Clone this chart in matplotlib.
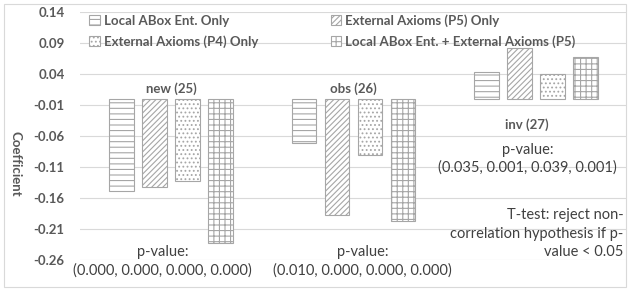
import matplotlib
matplotlib.use('Agg')
import matplotlib.pyplot as plt
from matplotlib.patches import Rectangle
import numpy as np

groups = ['new (25)', 'obs (26)', 'inv (27)']
series = ['Local ABox Ent. Only', 'External Axioms (P5) Only',
          'External Axioms (P4) Only', 'Local ABox Ent. + External Axioms (P5)']
values = [
    [-0.148, -0.071, 0.044],   # Local ABox Ent. Only
    [-0.142, -0.187, 0.082],   # External Axioms (P5) Only
    [-0.132, -0.090, 0.040],   # External Axioms (P4) Only
    [-0.232, -0.197, 0.068],   # Local ABox + External (P5)
]
pvalues = ['(0.000, 0.000, 0.000, 0.000)', '(0.010, 0.000, 0.000, 0.000)',
           '(0.035, 0.001, 0.039, 0.001)']
yticks = [0.14, 0.09, 0.04, -0.01, -0.06, -0.11, -0.16, -0.21, -0.26]

hatches = ['---', '//////', '....', '+++']
grey = '#595959'
plt.rcParams['hatch.color'] = '#a6a6a6'
plt.rcParams['hatch.linewidth'] = 0.8
plt.rcParams['font.family'] = ['Lato', 'DejaVu Sans']

fig = plt.figure(figsize=(6.3, 2.91), dpi=100)
ax = fig.add_axes([80/630, 31/291, 547/630, 248/291])
fig.patches.append(Rectangle((4/630, 4/291), 622/630, 283/291, transform=fig.transFigure,
                             fill=False, edgecolor='#d9d9d9', lw=0.8))

x = np.arange(len(groups))
w = 0.137
step = 0.181
bars = []
for i, vals in enumerate(values):
    b = ax.bar(x + (i - 1.5) * step, vals, w, color='white', edgecolor='#a6a6a6',
               hatch=hatches[i], lw=0.8, label=series[i], zorder=3)
    bars.append(b)

ax.set_xlim(-0.5, 2.5)
ax.set_ylim(-0.26, 0.14)
ax.set_yticks(yticks)
ax.set_yticklabels([f'{t:.2f}' for t in yticks], fontsize=9.5, fontweight='bold', color=grey)
ax.set_xticks([])
ax.yaxis.set_tick_params(length=0, pad=11)
ax.grid(axis='y', color='#d9d9d9', lw=0.8, zorder=0)
for spine in ('top', 'right', 'bottom', 'left'):
    ax.spines[spine].set_visible(False)
fig.text(15/630, 127/291, 'Coefficient', rotation=270, ha='center', va='center',
         fontsize=9.5, fontweight='bold', color=grey)

# category labels
lab = dict(ha='center', va='center', fontsize=9.5, fontweight='bold', color=grey)
ax.text(x[0], 0.017, groups[0], **lab)
ax.text(x[1], 0.017, groups[1], **lab)
ax.text(1.953, -0.042, groups[2], **lab)

# p-values
kw = dict(fontsize=10.5, color='#404040', ha='center', va='center')
ax.text(-0.046, -0.247, 'p-value:', **kw)
ax.text(-0.046, -0.277, pvalues[0], **kw)
ax.text(1.049, -0.247, 'p-value:', **kw)
ax.text(1.049, -0.277, pvalues[1], **kw)
ax.text(1.953, -0.083, 'p-value:', **kw)
ax.text(1.953, -0.111, pvalues[2], **kw)
kw2 = dict(fontsize=10.5, color='#404040', ha='right', va='center')
ax.text(2.48, -0.188, 'T-test: reject non-', **kw2)
ax.text(2.48, -0.218, 'correlation hypothesis if p-', **kw2)
ax.text(2.48, -0.247, 'value < 0.05', **kw2)

handles = [bars[0], bars[2], bars[1], bars[3]]
labels = [series[0], series[2], series[1], series[3]]
leg = ax.legend(handles, labels, ncol=2, loc='upper left', bbox_to_anchor=(-0.005, 1.04),
                frameon=False, fontsize=9.5, handlelength=0.8, handleheight=0.8,
                handletextpad=0.3, columnspacing=5.5, labelspacing=0.65)
for t in leg.get_texts():
    t.set_color(grey)
    t.set_fontweight('bold')

fig.savefig('out.png', dpi=100)
